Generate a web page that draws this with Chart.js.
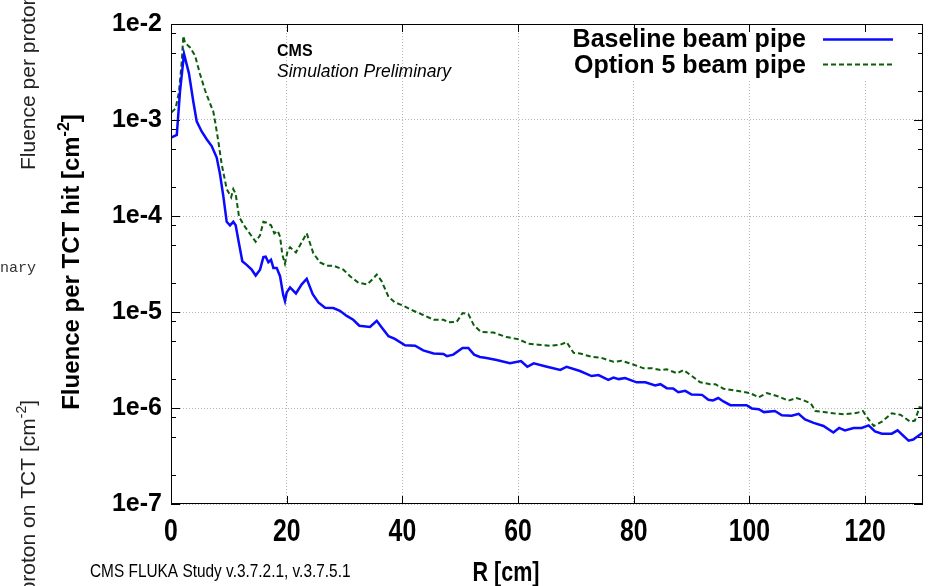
<!DOCTYPE html>
<html>
<head>
<meta charset="utf-8">
<script src="https://cdn.jsdelivr.net/npm/chart.js@4.4.0/dist/chart.umd.min.js"></script>
<style>
    html, body { margin: 0; padding: 0; background: #fff; }
    #wrap { width: 928px; height: 586px; }
</style>
</head>
<body>
<div id="wrap"><canvas id="fluenceChart" width="928" height="586"></canvas></div>
<script>
// values (R in cm, fluence per TCT hit in cm^-2)
const baselineR = [0.1, 1.0, 1.55, 2.25, 3.1, 3.86, 4.44, 5.3, 6.17, 7.03, 7.9, 8.47, 9.05, 9.63, 10.2, 10.77, 11.18, 11.65, 12.33, 13.08, 13.95, 14.64, 15.39, 15.97, 16.37, 16.83, 17.29, 17.7, 18.27, 18.85, 19.4, 19.7, 20.0, 20.58, 21.6, 22.6, 23.46, 24.5, 25.48, 26.63, 28.07, 29.2, 30.38, 31.5, 32.56, 34.4, 35.57, 36.4, 37.6, 38.7, 40.46, 42.2, 43.6, 45.4, 47.1, 47.7, 48.8, 50.4, 51.4, 52.4, 53.4, 54.3, 56.3, 58.6, 60.5, 61.6, 62.7, 65.0, 67.3, 68.4, 70.7, 72.7, 73.9, 75.6, 76.5, 77.4, 78.5, 80.5, 82.0, 83.7, 84.6, 85.7, 86.8, 87.7, 88.9, 90.0, 91.8, 92.9, 93.7, 94.6, 95.5, 96.7, 98.1, 99.5, 100.4, 101.6, 102.5, 104.4, 105.6, 107.3, 108.5, 109.6, 111.1, 112.8, 114.5, 115.5, 116.5, 118.0, 119.4, 120.6, 121.7, 122.9, 124.6, 125.6, 127.5, 128.3, 130];
const baselineFluence = [6.6e-4, 7.0e-4, 1.96e-3, 4.88e-3, 3.06e-3, 1.55e-3, 9.7e-4, 7.6e-4, 6.3e-4, 5.35e-4, 4.06e-4, 2.73e-4, 1.6e-4, 8.7e-5, 8.0e-5, 8.7e-5, 8.0e-5, 5.6e-5, 3.37e-5, 3.1e-5, 2.76e-5, 2.4e-5, 2.76e-5, 3.73e-5, 3.77e-5, 3.3e-5, 3.5e-5, 2.88e-5, 2.88e-5, 2.36e-5, 1.5e-5, 1.3e-5, 1.6e-5, 1.8e-5, 1.56e-5, 1.94e-5, 2.22e-5, 1.53e-5, 1.26e-5, 1.11e-5, 1.1e-5, 1.03e-5, 9.1e-6, 8.3e-6, 7.2e-6, 7.0e-6, 8.1e-6, 6.95e-6, 5.6e-6, 5.25e-6, 4.5e-6, 4.45e-6, 3.98e-6, 3.69e-6, 3.65e-6, 3.47e-6, 3.6e-6, 4.22e-6, 4.22e-6, 3.6e-6, 3.4e-6, 3.33e-6, 3.16e-6, 2.92e-6, 3.08e-6, 2.69e-6, 2.92e-6, 2.69e-6, 2.49e-6, 2.69e-6, 2.43e-6, 2.15e-6, 2.2e-6, 1.96e-6, 2.07e-6, 2.0e-6, 2.05e-6, 1.85e-6, 1.85e-6, 1.72e-6, 1.77e-6, 1.61e-6, 1.6e-6, 1.46e-6, 1.51e-6, 1.38e-6, 1.37e-6, 1.22e-6, 1.2e-6, 1.27e-6, 1.17e-6, 1.07e-6, 1.07e-6, 1.07e-6, 9.9e-7, 9.7e-7, 9.06e-7, 9.3e-7, 8.4e-7, 8.3e-7, 8.7e-7, 7.6e-7, 7.0e-7, 6.5e-7, 5.55e-7, 6.2e-7, 5.85e-7, 6.2e-7, 6.2e-7, 6.6e-7, 5.7e-7, 5.4e-7, 5.4e-7, 5.85e-7, 4.57e-7, 4.7e-7, 5.55e-7];

const option5R = [0.1, 0.8, 1.38, 1.85, 2.13, 2.42, 3.29, 4.15, 5.0, 5.88, 6.74, 7.32, 7.72, 8.18, 8.76, 9.34, 9.63, 10.4, 10.77, 11.18, 11.76, 12.8, 13.83, 14.64, 15.39, 15.97, 16.54, 17.3, 17.86, 18.44, 18.85, 19.25, 19.7, 20.17, 20.58, 21.6, 23.46, 24.6, 25.76, 26.9, 28.07, 29.8, 30.95, 32.4, 33.9, 34.7, 35.57, 36.4, 37.6, 38.7, 40.2, 41.9, 43.6, 45.4, 47.1, 47.95, 49.4, 50.4, 51.4, 52.4, 53.6, 55.75, 58.0, 60.1, 61.8, 63.5, 65.5, 67.3, 68.4, 69.6, 70.7, 72.7, 74.4, 76.5, 77.9, 79.9, 81.7, 83.1, 84.6, 85.7, 87.5, 88.6, 89.7, 91.5, 93.2, 94.1, 95.5, 97.8, 100.1, 101.6, 103.0, 105.0, 106.7, 108.1, 109.1, 110.6, 111.4, 112.8, 114.5, 116.5, 118.6, 119.6, 120.6, 121.5, 122.9, 124.6, 126.1, 127.8, 128.6, 129.4, 130];
const option5Fluence = [1.2e-3, 1.32e-3, 1.96e-3, 4.0e-3, 7.5e-3, 6.4e-3, 5.7e-3, 4.7e-3, 3.03e-3, 2.04e-3, 1.49e-3, 1.22e-3, 8.9e-4, 6.0e-4, 3.47e-4, 2.33e-4, 1.91e-4, 1.57e-4, 1.91e-4, 1.7e-4, 9.8e-5, 7.7e-5, 6.3e-5, 5.4e-5, 6.3e-5, 8.7e-5, 8.5e-5, 8.0e-5, 6.6e-5, 7.0e-5, 6.1e-5, 3.95e-5, 3.19e-5, 4.37e-5, 4.73e-5, 4.17e-5, 6.6e-5, 4.1e-5, 3.29e-5, 3.04e-5, 3.04e-5, 2.76e-5, 2.36e-5, 2.02e-5, 1.94e-5, 2.15e-5, 2.46e-5, 2.1e-5, 1.44e-5, 1.26e-5, 1.16e-5, 1.03e-5, 9.3e-6, 8.3e-6, 8.3e-6, 7.8e-6, 7.9e-6, 9.75e-6, 9.5e-6, 7.2e-6, 6.2e-6, 6.1e-6, 5.48e-6, 5.2e-6, 4.67e-6, 4.56e-6, 4.45e-6, 4.56e-6, 4.86e-6, 3.75e-6, 3.7e-6, 3.41e-6, 3.33e-6, 3.03e-6, 3.1e-6, 2.84e-6, 2.59e-6, 2.6e-6, 2.49e-6, 2.53e-6, 2.3e-6, 2.49e-6, 2.23e-6, 1.85e-6, 1.77e-6, 1.77e-6, 1.59e-6, 1.51e-6, 1.43e-6, 1.29e-6, 1.43e-6, 1.32e-6, 1.19e-6, 1.27e-6, 1.22e-6, 1.12e-6, 9.3e-7, 9.1e-7, 8.8e-7, 8.6e-7, 8.9e-7, 9.3e-7, 7.6e-7, 6.5e-7, 7.2e-7, 8.8e-7, 8.5e-7, 7.2e-7, 7.4e-7, 1.02e-6, 1.0e-6];

const seriesLabels = ['Baseline beam pipe', 'Option 5 beam pipe'];
const xTickValues = [0, 20, 40, 60, 80, 100, 120];
const yDecades = [1e-7, 1e-6, 1e-5, 1e-4, 1e-3, 1e-2];
const yMinorFactors = [2, 5, 8];

document.addEventListener('DOMContentLoaded', function() {
    const ctx = document.getElementById('fluenceChart').getContext('2d');
    const SANS = '"Liberation Sans", Arial, Helvetica, sans-serif';

    function isDecade(v) {
        const l = Math.log10(v);
        return Math.abs(l - Math.round(l)) < 1e-6;
    }

    function toPoints(xs, ys) {
        return xs.map((x, i) => ({ x: x, y: ys[i] }));
    }

    // text pieces with a raised part, e.g. cm^-2
    function drawRich(c, pieces, x, y, align) {
        let total = 0;
        pieces.forEach(p => { c.font = p.font; total += c.measureText(p.t).width; });
        let cur = align === 'right' ? x - total : align === 'center' ? x - total / 2 : x;
        c.textAlign = 'left';
        pieces.forEach(p => {
            c.font = p.font;
            c.fillText(p.t, cur, y + (p.dy || 0));
            cur += c.measureText(p.t).width;
        });
    }

    // gnuplot used a narrow helvetica; squeeze the text horizontally
    function narrowText(c, text, x, y, font, squeeze) {
        c.save();
        c.translate(x, y);
        c.scale(squeeze, 1);
        c.font = font;
        c.textAlign = 'center';
        c.fillText(text, 0, 0);
        c.restore();
    }

    function strayLabel(size) {
        const f = size + 'px ' + SANS;
        const s = Math.round(size * 0.65) + 'px ' + SANS;
        return [
            { t: 'Fluence per proton on TCT [cm', font: f },
            { t: '-2', font: s, dy: -size * 0.45 },
            { t: ']', font: f }
        ];
    }

    const decorations = {
        id: 'decorations',
        afterDatasetsDraw(chart) {
            const c = chart.ctx;
            const a = chart.chartArea;
            const xs = chart.scales.x;
            const ys = chart.scales.y;
            c.save();

            // legend background
            c.fillStyle = '#ffffff';
            c.fillRect(560, 28, 345, 52);

            // frame
            c.strokeStyle = '#000';
            c.lineWidth = 1;
            c.strokeRect(a.left + 0.5, a.top + 0.5, a.right - a.left - 1, a.bottom - a.top - 1);

            // inward ticks on all four sides
            c.beginPath();
            xs.ticks.forEach(t => {
                const px = Math.round(xs.getPixelForValue(t.value)) + 0.5;
                c.moveTo(px, a.bottom); c.lineTo(px, a.bottom - 8);
                c.moveTo(px, a.top); c.lineTo(px, a.top + 8);
            });
            ys.ticks.forEach(t => {
                const py = Math.round(ys.getPixelForValue(t.value)) + 0.5;
                const len = isDecade(t.value) ? 9 : 5;
                c.moveTo(a.left, py); c.lineTo(a.left + len, py);
                c.moveTo(a.right, py); c.lineTo(a.right - len, py);
            });
            c.stroke();

            // x tick labels, from the scale's own ticks
            c.fillStyle = '#000';
            c.textBaseline = 'alphabetic';
            xs.ticks.forEach(t => {
                narrowText(c, String(t.value), xs.getPixelForValue(t.value), 541, 'bold 31px ' + SANS, 0.8);
            });

            // legend
            chart.data.datasets.forEach((ds, i) => {
                c.fillStyle = '#000';
                c.font = 'bold 25px ' + SANS;
                c.textAlign = 'right';
                c.fillText(ds.label, 806, 47 + i * 26);
                c.strokeStyle = ds.borderColor;
                c.lineWidth = ds.borderWidth;
                c.setLineDash(ds.borderDash || []);
                c.beginPath();
                c.moveTo(823, 39.5 + i * 25);
                c.lineTo(893, 39.5 + i * 25);
                c.stroke();
                c.setLineDash([]);
            });

            // CMS label
            c.fillStyle = '#000';
            c.textAlign = 'left';
            c.font = 'bold 16px ' + SANS;
            c.fillText('CMS', 277, 56);
            c.font = 'italic 17.5px ' + SANS;
            c.fillText('Simulation Preliminary', 277, 77);

            // axis titles
            c.save();
            c.translate(79, 262);
            c.rotate(-Math.PI / 2);
            c.fillStyle = '#000';
            drawRich(c, [
                { t: 'Fluence per TCT hit [cm', font: 'bold 24px ' + SANS },
                { t: '-2', font: 'bold 16px ' + SANS, dy: -10 },
                { t: ']', font: 'bold 24px ' + SANS }
            ], 0, 0, 'center');
            c.restore();

            narrowText(c, 'R [cm]', 506, 581, 'bold 28px ' + SANS, 0.77);

            c.save();
            c.translate(90, 577);
            c.scale(0.88, 1);
            c.textAlign = 'left';
            c.font = '17.5px ' + SANS;
            c.fillText('CMS FLUKA Study v.3.7.2.1, v.3.7.5.1', 0, 0);
            c.restore();

            // pieces of the neighbouring plot at the left edge
            c.fillStyle = '#222';
            c.save();
            c.translate(35, 170);
            c.rotate(-Math.PI / 2);
            drawRich(c, strayLabel(21), 0, 0, 'left');
            c.restore();
            c.save();
            c.translate(35, 400);
            c.rotate(-Math.PI / 2);
            drawRich(c, strayLabel(21), 0, 0, 'right');
            c.restore();
            c.fillStyle = '#333';
            c.textAlign = 'left';
            c.font = '15px "Liberation Mono", "DejaVu Sans Mono", monospace';
            c.fillText('Preliminary', -63, 272);

            c.restore();
        }
    };

    new Chart(ctx, {
        type: 'line',
        data: {
            datasets: [{
                label: seriesLabels[0],
                data: toPoints(baselineR, baselineFluence),
                borderColor: '#0a0aff',
                borderWidth: 2.5,
                pointRadius: 0,
                tension: 0,
                fill: false
            }, {
                label: seriesLabels[1],
                data: toPoints(option5R, option5Fluence),
                borderColor: '#0b5d0b',
                borderWidth: 2,
                borderDash: [5, 3],
                pointRadius: 0,
                tension: 0,
                fill: false
            }]
        },
        options: {
            responsive: false,
            animation: false,
            devicePixelRatio: 1,
            layout: { padding: { left: 0, right: 5, top: 18, bottom: 0 } },
            plugins: {
                legend: { display: false },
                tooltip: { enabled: false }
            },
            scales: {
                x: {
                    type: 'linear',
                    min: 0,
                    max: 130,
                    afterBuildTicks: scale => {
                        scale.ticks = xTickValues.map(v => ({ value: v }));
                    },
                    afterFit: scale => { scale.height = 82; },
                    grid: {
                        color: '#b5b5b5',
                        lineWidth: 1,
                        drawTicks: false
                    },
                    border: { display: false, dash: [1, 2] },
                    ticks: { display: false, autoSkip: false }
                },
                y: {
                    type: 'logarithmic',
                    min: 1e-7,
                    max: 1e-2,
                    afterBuildTicks: scale => {
                        const vals = [];
                        yDecades.forEach((d, i) => {
                            vals.push(d);
                            if (i < yDecades.length - 1) {
                                yMinorFactors.forEach(f => vals.push(f * d));
                            }
                        });
                        scale.ticks = vals.map(v => ({ value: v }));
                    },
                    afterFit: scale => { scale.width = 171; },
                    grid: {
                        color: c => (c.tick && isDecade(c.tick.value)) ? '#b5b5b5' : 'rgba(0,0,0,0)',
                        lineWidth: 1,
                        drawTicks: false
                    },
                    border: { display: false, dash: [1, 2] },
                    ticks: {
                        autoSkip: false,
                        padding: 9,
                        color: '#000',
                        font: { family: SANS, size: 25, weight: 'bold' },
                        callback: v => isDecade(v) ? '1e' + Math.round(Math.log10(v)) : ''
                    }
                }
            }
        },
        plugins: [decorations]
    });
});
</script>
</body>
</html>
